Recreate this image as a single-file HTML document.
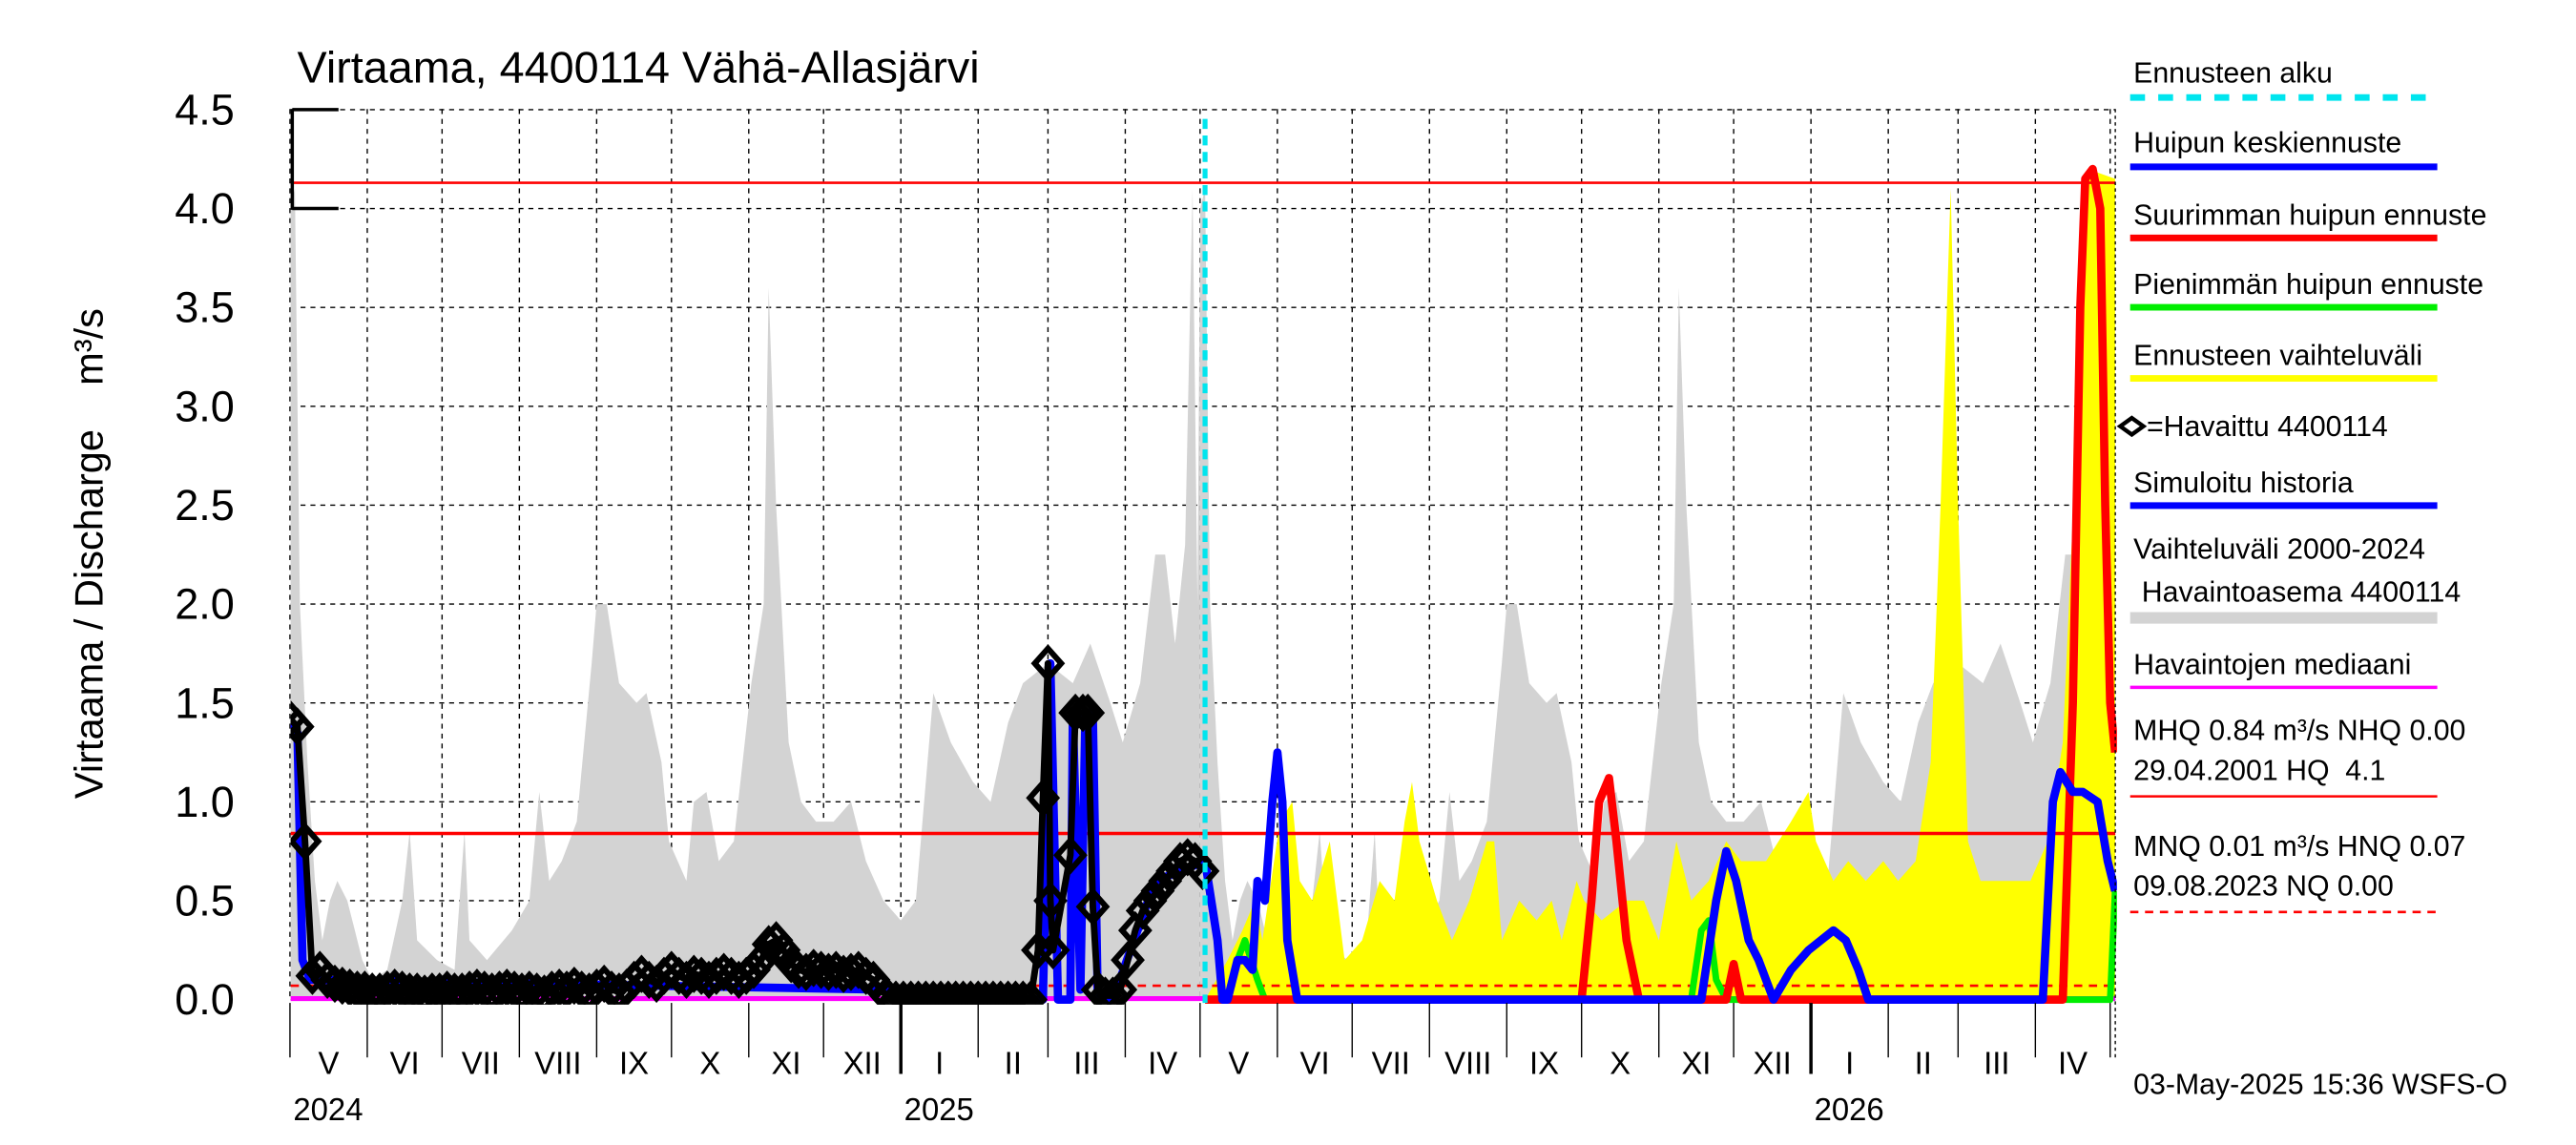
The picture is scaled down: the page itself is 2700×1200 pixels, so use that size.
<!DOCTYPE html>
<html><head><meta charset="utf-8"><style>
html,body{margin:0;padding:0;background:#fff;}
svg{display:block;font-family:"Liberation Sans",Arial,sans-serif;}
</style></head><body>
<svg id="chart" xmlns="http://www.w3.org/2000/svg" width="2700" height="1200" viewBox="0 0 1560 693" preserveAspectRatio="none">
<defs><clipPath id="pc"><rect x="176" y="60" width="1106" height="548"/></clipPath></defs>
<rect width="1560" height="693" fill="#fff"/>
<text x="180" y="50" font-size="27">Virtaama, 4400114 Vähä-Allasjärvi</text>
<text transform="translate(62,335) rotate(-90)" text-anchor="middle" font-size="24" xml:space="preserve" style="white-space:pre">Virtaama / Discharge    m³/s</text>
<g id="grid"></g>
<g id="series" clip-path="url(#pc)"></g>
<g id="axes"></g>
<g id="legend" font-size="17.5">
<text x="1292" y="50">Ennusteen alku</text>
<line x1="1290" y1="59" x2="1476" y2="59" stroke="#00e5ee" stroke-width="4" stroke-dasharray="9,8"/>
<text x="1292" y="92">Huipun keskiennuste</text>
<line x1="1290" y1="101" x2="1476" y2="101" stroke="#0000ff" stroke-width="4"/>
<text x="1292" y="136">Suurimman huipun ennuste</text>
<line x1="1290" y1="144" x2="1476" y2="144" stroke="#ff0000" stroke-width="4"/>
<text x="1292" y="178">Pienimmän huipun ennuste</text>
<line x1="1290" y1="186" x2="1476" y2="186" stroke="#00ee00" stroke-width="4"/>
<text x="1292" y="221">Ennusteen vaihteluväli</text>
<line x1="1290" y1="229" x2="1476" y2="229" stroke="#ffff00" stroke-width="4"/>
<path d="M1284,258 l7,-5 l7,5 l-7,5 z" fill="#fff" stroke="#000" stroke-width="2.5"/>
<text x="1300" y="264">=Havaittu 4400114</text>
<text x="1292" y="298">Simuloitu historia</text>
<line x1="1290" y1="306" x2="1476" y2="306" stroke="#0000ff" stroke-width="4"/>
<text x="1292" y="338">Vaihteluväli 2000-2024</text>
<text x="1297" y="364">Havaintoasema 4400114</text>
<line x1="1290" y1="374" x2="1476" y2="374" stroke="#d3d3d3" stroke-width="7"/>
<text x="1292" y="408">Havaintojen mediaani</text>
<line x1="1290" y1="416" x2="1476" y2="416" stroke="#ff00ff" stroke-width="2"/>
<text x="1292" y="448">MHQ 0.84 m³/s NHQ 0.00</text>
<text x="1292" y="472" xml:space="preserve" style="white-space:pre">29.04.2001 HQ  4.1</text>
<line x1="1290" y1="482" x2="1476" y2="482" stroke="#ff0000" stroke-width="1.5"/>
<text x="1292" y="518">MNQ 0.01 m³/s HNQ 0.07</text>
<text x="1292" y="542">09.08.2023 NQ 0.00</text>
<line x1="1290" y1="552" x2="1476" y2="552" stroke="#ff0000" stroke-width="1.5" stroke-dasharray="5,4"/>
<text x="1292" y="662">03-May-2025 15:36 WSFS-O</text>
</g>
</svg>
<script>
// ---- data (day 0 = 1 May 2024) ----
const grayDays=[0,2,4,7,10,13,16,19,23,26,29,33,39,45,48,51,59,66,68,70,72,79,89,96,100,104,109,115,121,123,127,132,139,143,149,152,159,162,167,172,178,185,190,192,195,200,205,211,218,225,231,238,245,251,258,265,274,281,288,294,304,314,321,329,334,341,347,351,355,359,362,364,365];
const grayVals=[4.0,4.1,2.0,1.2,0.6,0.3,0.5,0.6,0.5,0.35,0.2,0.1,0.15,0.5,0.85,0.3,0.2,0.15,0.5,0.85,0.3,0.2,0.35,0.5,1.05,0.6,0.7,0.9,1.7,2.0,2.0,1.6,1.5,1.55,1.2,0.8,0.6,1.0,1.05,0.7,0.8,1.6,2.0,3.6,2.5,1.3,1.0,0.9,0.9,1.0,0.7,0.5,0.4,0.5,1.55,1.3,1.1,1.0,1.4,1.6,1.7,1.6,1.8,1.5,1.3,1.6,2.25,2.25,1.8,2.3,4.1,2.0,4.0];
const yelDays=[367,376,382,387,390,397,402,405,410,417,423,430,437,443,447,450,453,460,466,473,480,483,486,493,500,506,510,516,519,526,536,543,549,556,562,569,576,582,592,602,609,612,619,625,632,639,645,652,658,662,666,669,673,678,688,698,705,711,717,721,732];
const yelVals=[0,0.2,0.35,0.5,0.3,0.9,1.0,0.6,0.5,0.8,0.2,0.3,0.6,0.5,0.9,1.1,0.8,0.5,0.3,0.5,0.8,0.8,0.3,0.5,0.4,0.5,0.3,0.6,0.5,0.4,0.5,0.5,0.3,0.8,0.5,0.6,0.8,0.7,0.7,0.9,1.05,0.8,0.6,0.7,0.6,0.7,0.6,0.7,1.2,2.5,4.1,2.5,0.8,0.6,0.6,0.6,0.8,1.3,3.0,4.2,4.15];
const redDays=[367,518,522,525,529,532,536,541,576,579,582,711,715,718,720,723,726,728,730,732];
const redVals=[0,0,0.5,1.0,1.12,0.8,0.3,0,0,0.18,0,0,1.5,3.5,4.15,4.2,4.0,2.5,1.5,1.25];
const greenDays=[367,376,380,383,388,391,562,566,569,572,576,730,732];
const greenVals=[0,0,0.2,0.3,0.1,0,0,0.35,0.4,0.1,0,0,0.55];
const blueDays=[367,372,374,376,380,383,386,388,391,394,396,398,400,404,566,572,576,580,585,589,595,602,609,614,619,624,629,633,703,707,710,715,719,725,729,732];
const blueVals=[0.7,0.3,0,0,0.2,0.2,0.15,0.6,0.5,1.0,1.25,1.0,0.3,0,0,0.5,0.75,0.6,0.3,0.2,0,0.15,0.25,0.3,0.35,0.3,0.15,0,0,1.0,1.15,1.05,1.05,1.0,0.7,0.55];
const simDays=[0,3,5,8,240,243,302,305,308,313,314,317,319,322,324,330,347,367];
const simVals=[1.4,1.35,0.2,0.1,0.05,0,0,1.7,0,0,1.45,0.05,1.45,1.45,0,0,0.6,0.7];
const obsDays=[0,3,6,9,12,15,18,21,24,27,30,33,36,39,42,45,48,51,54,57,60,63,66,69,72,75,78,81,84,87,90,93,96,99,102,105,108,111,114,117,120,123,126,129,132,135,138,141,144,147,150,153,156,159,162,165,168,171,174,177,180,183,186,189,192,195,198,201,204,207,210,213,216,219,222,225,228,231,234,237,240,243,246,249,252,255,258,261,264,267,270,273,276,279,282,285,288,291,294,297,300,302,304,305,306,313,315,318,320,322,324,327,330,333,336,339,342,345,348,351,354,357,360,363,366];
const obsVals=[1.42,1.38,0.8,0.12,0.15,0.1,0.08,0.07,0.06,0.05,0.05,0.04,0.04,0.05,0.06,0.05,0.04,0.04,0.03,0.04,0.04,0.05,0.04,0.04,0.05,0.06,0.05,0.04,0.05,0.06,0.05,0.04,0.05,0.04,0.03,0.05,0.06,0.05,0.07,0.05,0.04,0.06,0.08,0.05,0.04,0.06,0.1,0.13,0.1,0.08,0.12,0.15,0.12,0.1,0.13,0.12,0.1,0.12,0.14,0.12,0.1,0.12,0.15,0.2,0.28,0.3,0.25,0.18,0.15,0.14,0.16,0.15,0.14,0.15,0.13,0.14,0.15,0.12,0.1,0.05,0.01,0,0,0,0,0,0,0,0,0,0,0,0,0,0,0,0,0,0,0,0.25,1.02,1.7,0.5,0.25,0.73,1.45,1.45,1.45,0.47,0.05,0.02,0.02,0.05,0.2,0.35,0.45,0.5,0.55,0.6,0.65,0.7,0.72,0.7,0.65];
const yTicks=["0.0","0.5","1.0","1.5","2.0","2.5","3.0","3.5","4.0","4.5"];
const monthStarts=[0,31,61,92,123,153,184,214,245,276,304,335,365,396,426,457,488,518,549,579,610,641,669,700,730];
const monthLabels=["V","VI","VII","VIII","IX","X","XI","XII","I","II","III","IV","V","VI","VII","VIII","IX","X","XI","XII","I","II","III","IV"];
const yearLabels=["2024","2025","2026"];
const yearDays=[0,245,610];
const refMHQ=0.84, refHQ=4.13, refHNQ=0.07, forecastDay=367;

const NS="http://www.w3.org/2000/svg";
const X=d=>175.6+d*1.51, Y=v=>605-v*119.7, XMAX=732;
function mk(parent,tag,attrs){const e=document.createElementNS(NS,tag);for(const k in attrs)e.setAttribute(k,attrs[k]);document.getElementById(parent).appendChild(e);return e;}
function pts(ds,vs,off){return ds.map((d,i)=>X(d+(off||0)).toFixed(1)+","+Y(vs[i]).toFixed(1));}

yTicks.forEach((t,i)=>{const v=parseFloat(t);
  const g=mk("grid","line",{x1:176,x2:1281,y1:Y(v),y2:Y(v),stroke:"#000","stroke-width":0.8,"stroke-dasharray":"3,3"});
  
  
  const tl=mk("axes","text",{x:142,y:Y(v)+9,"text-anchor":"end","font-size":26});tl.textContent=t;
  
  
});
monthStarts.forEach((d,i)=>{
  const g=mk("grid","line",{x1:X(d),x2:X(d),y1:66,y2:605,stroke:"#000","stroke-width":0.8,"stroke-dasharray":"3,3"});
  
  
  const isYear=yearDays.indexOf(d)>0;
  const t=mk("axes","line",{x1:X(d),x2:X(d),y1:607,y2:isYear?650:640,stroke:"#000","stroke-width":isYear?2:0.8});
  
  
  if(i<monthLabels.length){const l=mk("axes","text",{x:(X(d)+X(monthStarts[i+1]))/2,y:650,"text-anchor":"middle","font-size":19});l.textContent=monthLabels[i];
  
  }
});
yearLabels.forEach((y,i)=>{const l=mk("axes","text",{x:X(yearDays[i])+2,y:678,"font-size":19});l.textContent=y;
  
  });
mk("axes","line",{x1:177,x2:177,y1:66,y2:127,stroke:"#000","stroke-width":2});
mk("axes","line",{x1:177,x2:205,y1:Y(4.5),y2:Y(4.5),stroke:"#000","stroke-width":2});
mk("axes","line",{x1:177,x2:205,y1:Y(4.0),y2:Y(4.0),stroke:"#000","stroke-width":2});
mk("axes","line",{x1:1281,x2:1281,y1:66,y2:640,stroke:"#000","stroke-width":0.8,"stroke-dasharray":"2,2"});

[0,365].forEach(off=>{
  const p=pts(grayDays,grayVals,off);
  const e=mk("series","polygon",{points:X(off)+","+Y(0)+" "+p.join(" ")+" "+X(off+365)+","+Y(0),fill:"#d3d3d3"});
  
  
});
{const e=mk("series","polygon",{points:X(yelDays[0])+","+Y(0)+" "+pts(yelDays,yelVals).join(" ")+" "+X(XMAX)+","+Y(0),fill:"#ffff00"});

}
{let e=mk("series","line",{x1:176,x2:1281,y1:Y(refMHQ),y2:Y(refMHQ),stroke:"#ff0000","stroke-width":2});


e=mk("series","line",{x1:176,x2:1281,y1:Y(refHQ),y2:Y(refHQ),stroke:"#ff0000","stroke-width":1.5});


e=mk("series","line",{x1:176,x2:1281,y1:Y(refHNQ),y2:Y(refHNQ),stroke:"#ff0000","stroke-width":1.5,"stroke-dasharray":"5,4"});


e=mk("series","line",{x1:176,x2:1281,y1:Y(0.005),y2:Y(0.005),stroke:"#ff00ff","stroke-width":3});

}
function line(ds,vs,color,w,name){const e=mk("series","polyline",{points:pts(ds,vs).join(" "),fill:"none",stroke:color,"stroke-width":w,"stroke-linejoin":"round"});
  
  }
line(simDays,simVals,"#0000ff",5,"simulated-history-line");
line(greenDays,greenVals,"#00ee00",4,"min-peak-forecast-line");
line(redDays,redVals,"#ff0000",5,"max-peak-forecast-line");
line(blueDays,blueVals,"#0000ff",5,"median-peak-forecast-line");
line(obsDays,obsVals,"#000",4,"observed-line");
obsDays.forEach((d,i)=>{const x=X(d),y=Y(obsVals[i]);
  const e=mk("series","path",{d:`M${x-8},${y} L${x},${y-9} L${x+8},${y} L${x},${y+9} Z`,fill:"none",stroke:"#000","stroke-width":3.5});
  
  
});
{const e=mk("series","line",{x1:X(forecastDay),x2:X(forecastDay),y1:72,y2:607,stroke:"#00e5ee","stroke-width":3,"stroke-dasharray":"6,4"});

}
</script>
</body></html>
